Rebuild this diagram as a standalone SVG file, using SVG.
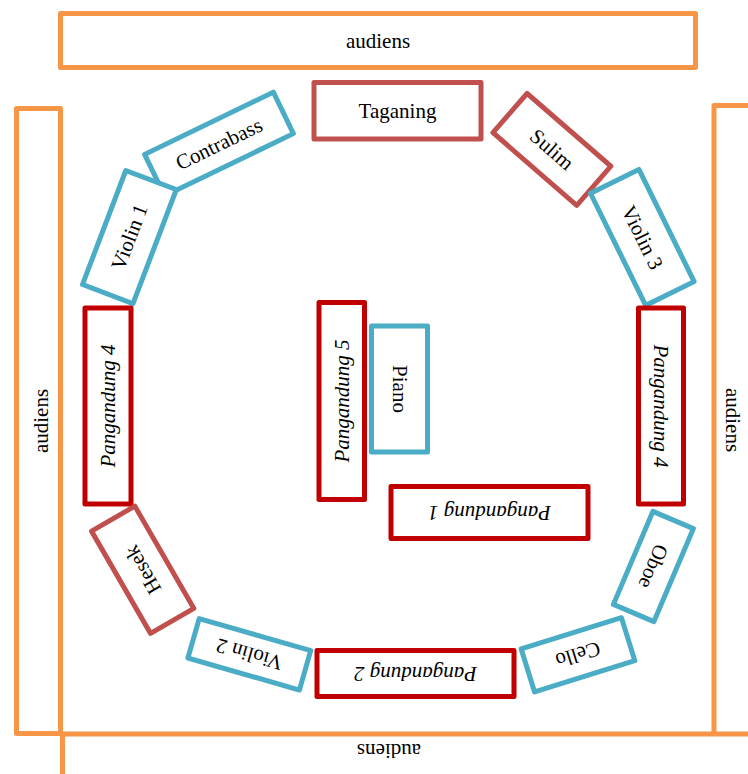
<svg xmlns="http://www.w3.org/2000/svg" width="748" height="774" viewBox="0 0 748 774">
<style>
rect{fill:#fff;stroke-width:5;stroke-linejoin:round}
.aud{stroke:#F79646}
.red{stroke:#C0504D}
.pg{stroke:#C00000}
.blue{stroke:#4BACC6}
text{font-family:"Liberation Serif","Times New Roman",serif;font-size:21px;fill:#000;text-anchor:middle}
.it{font-style:italic}
</style>
<rect width="748" height="774" fill="#fff" stroke="none"/>
<g id="connectors"/>
<g id="audiens-top"><rect class="aud" x="60.5" y="13.5" width="635" height="54"/><text x="378" y="48">audiens</text></g>
<g id="audiens-left"><rect class="aud" x="16.5" y="108.5" width="44" height="625"/><text transform="translate(41,421) rotate(-90)" y="7">audiens</text></g>
<g id="audiens-right"><rect class="aud" x="714" y="105.5" width="60" height="720"/><text transform="translate(733,420) rotate(90)" y="7">audiens</text></g>
<g id="audiens-bottom"><rect class="aud" x="62.5" y="734" width="740" height="70"/><text transform="translate(389,751) rotate(180)" y="7">audiens</text></g>
<g id="taganing"><rect class="red" x="314" y="82.5" width="167" height="56.5"/><text x="397.5" y="117.5">Taganing</text></g>
<g id="contrabass" transform="translate(219,144) rotate(-25.8)"><rect class="blue" x="-71.5" y="-23" width="143" height="46"/><text y="7">Contrabass</text></g>
<g id="violin1" transform="translate(129.4,237.1) rotate(-69.2)"><rect class="blue" x="-61" y="-27" width="122" height="54"/><text y="7">Violin 1</text></g>
<g id="sulim" transform="translate(551.9,149.4) rotate(41)"><rect class="red" x="-55.5" y="-26" width="111" height="52"/><text y="7">Sulim</text></g>
<g id="violin3" transform="translate(642.3,237.4) rotate(63.8)"><rect class="blue" x="-62.5" y="-27" width="125" height="54"/><text y="7">Violin 3</text></g>
<g id="pangandung4-left" transform="translate(108,406) rotate(-90)"><rect class="pg" x="-98" y="-23" width="196" height="46"/><text class="it" y="7">Pangandung 4</text></g>
<g id="pangandung4-right" transform="translate(661,406) rotate(90)"><rect class="pg" x="-98" y="-22.5" width="196" height="45"/><text class="it" y="7">Pangandung 4</text></g>
<g id="pangandung5" transform="translate(341.75,401) rotate(-90)"><rect class="pg" x="-98.5" y="-22.75" width="197" height="45.5"/><text class="it" y="7">Pangandung 5</text></g>
<g id="piano" transform="translate(399.5,389) rotate(90)"><rect class="blue" x="-63" y="-28" width="126" height="56"/><text y="7">Piano</text></g>
<g id="pangandung1" transform="translate(489.5,512.5) rotate(180)"><rect class="pg" x="-98.5" y="-26" width="197" height="52"/><text class="it" y="7">Pangandung 1</text></g>
<g id="hesek" transform="translate(142.7,569.8) rotate(240)"><rect class="red" x="-59" y="-25" width="118" height="50"/><text y="7">Hesek</text></g>
<g id="oboe" transform="translate(653.4,566.5) rotate(113)"><rect class="blue" x="-50.5" y="-22" width="101" height="44"/><text y="7">Oboe</text></g>
<g id="violin2" transform="translate(249.3,654.3) rotate(196)"><rect class="blue" x="-58" y="-20.5" width="116" height="41"/><text y="7">Violin 2</text></g>
<g id="pangandung2" transform="translate(415.5,673.5) rotate(180)"><rect class="pg" x="-98.5" y="-23" width="197" height="46"/><text class="it" y="7">Pangandung 2</text></g>
<g id="cello" transform="translate(578,654.8) rotate(162.7)"><rect class="blue" x="-52.5" y="-22.5" width="105" height="45"/><text y="7">Cello</text></g>
</svg>
